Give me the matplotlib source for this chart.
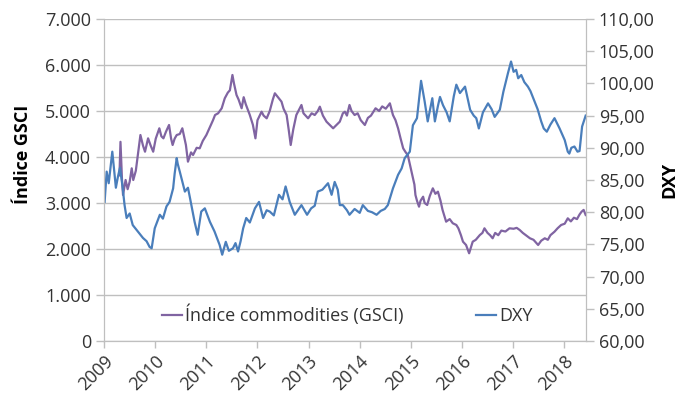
import matplotlib
matplotlib.use("Agg")
import matplotlib.pyplot as plt
import matplotlib.transforms as mtransforms
from matplotlib.ticker import FuncFormatter

# datas em anos decimais
gsci_t = [2009.30, 2009.32, 2009.35, 2009.37, 2009.42, 2009.46, 2009.50, 2009.54, 2009.57, 2009.62,
          2009.66, 2009.71, 2009.76, 2009.80, 2009.86, 2009.91, 2009.96, 2010.01, 2010.08, 2010.12,
          2010.16, 2010.21, 2010.27, 2010.31, 2010.34, 2010.38, 2010.42, 2010.48, 2010.53, 2010.60,
          2010.64, 2010.70, 2010.74, 2010.81, 2010.87, 2010.93, 2011.00, 2011.07, 2011.13, 2011.17,
          2011.23, 2011.30, 2011.36, 2011.42, 2011.46, 2011.51, 2011.54, 2011.59, 2011.63, 2011.69,
          2011.73, 2011.77, 2011.85, 2011.91, 2011.96, 2012.00, 2012.08, 2012.12, 2012.18, 2012.24,
          2012.30, 2012.34, 2012.40, 2012.47, 2012.51, 2012.57, 2012.61, 2012.65, 2012.70, 2012.76,
          2012.80, 2012.86, 2012.90, 2012.99, 2013.06, 2013.12, 2013.18, 2013.22, 2013.28, 2013.35,
          2013.41, 2013.48, 2013.55, 2013.61, 2013.67, 2013.71, 2013.75, 2013.80, 2013.84, 2013.90,
          2013.96, 2014.02, 2014.10, 2014.16, 2014.22, 2014.31, 2014.38, 2014.44, 2014.51, 2014.59,
          2014.65, 2014.70, 2014.75, 2014.80, 2014.85, 2014.90, 2014.94, 2014.99, 2015.03, 2015.07,
          2015.09, 2015.12, 2015.16, 2015.19, 2015.24, 2015.27, 2015.32, 2015.37, 2015.43, 2015.48,
          2015.53, 2015.58, 2015.62, 2015.69, 2015.76, 2015.82, 2015.89, 2015.93, 2015.98, 2016.02,
          2016.08, 2016.14, 2016.18, 2016.21, 2016.27, 2016.35, 2016.40, 2016.44, 2016.50, 2016.55,
          2016.60, 2016.65, 2016.71, 2016.77, 2016.85, 2016.93, 2017.01, 2017.07, 2017.13, 2017.19,
          2017.25, 2017.33, 2017.40, 2017.49, 2017.55, 2017.62, 2017.68, 2017.73, 2017.81, 2017.87,
          2017.94, 2018.01, 2018.07, 2018.13, 2018.19, 2018.25, 2018.30, 2018.34, 2018.38, 2018.42]
gsci_v = [3600, 4330, 3500, 3174, 3500, 3300, 3463, 3754, 3500, 3700,
          4044, 4478, 4250, 4115, 4406, 4250, 4115, 4400, 4624, 4450,
          4406, 4550, 4696, 4400, 4261, 4400, 4478, 4500, 4624, 4261,
          3898, 4100, 4044, 4200, 4189, 4350, 4478, 4650, 4800, 4913,
          4950, 5059, 5276, 5400, 5450, 5783, 5600, 5348, 5250, 5059,
          5300, 5150, 4913, 4700, 4406, 4800, 4985, 4900, 4841, 5000,
          5250, 5385, 5300, 5203, 5050, 4913, 4600, 4261, 4600, 4913,
          5000, 5131, 4950, 4841, 4950, 4913, 5000, 5094, 4900, 4768,
          4700, 4624, 4700, 4768, 4950, 4985, 4900, 5131, 5000, 4913,
          4950, 4800, 4696, 4850, 4900, 5059, 5000, 5100, 5050, 5167,
          4913, 4800, 4624, 4400, 4189, 4100, 4044, 3800, 3609, 3400,
          3174, 3050, 2920, 3050, 3137, 3000, 2957, 3150, 3319, 3200,
          3246, 3050, 2850, 2594, 2650, 2560, 2522, 2450, 2300, 2159,
          2087, 1907, 2050, 2159, 2200, 2304, 2350, 2450, 2350, 2300,
          2233, 2350, 2300, 2400, 2380, 2450, 2440, 2460, 2413, 2350,
          2300, 2233, 2200, 2087, 2180, 2233, 2200, 2300, 2376, 2450,
          2522, 2550, 2667, 2600, 2680, 2650, 2750, 2811, 2850, 2739]

dxy_t = [2009.01, 2009.05, 2009.09, 2009.16, 2009.23, 2009.27, 2009.31, 2009.36, 2009.40, 2009.44,
         2009.50, 2009.56, 2009.66, 2009.76, 2009.83, 2009.89, 2009.93, 2009.99, 2010.09, 2010.15,
         2010.22, 2010.28, 2010.35, 2010.38, 2010.42, 2010.44, 2010.48, 2010.58, 2010.64, 2010.68,
         2010.77, 2010.83, 2010.90, 2010.97, 2011.07, 2011.16, 2011.26, 2011.31, 2011.38, 2011.44,
         2011.52, 2011.57, 2011.62, 2011.67, 2011.72, 2011.78, 2011.85, 2011.95, 2012.03, 2012.11,
         2012.18, 2012.24, 2012.32, 2012.42, 2012.49, 2012.55, 2012.63, 2012.73, 2012.79, 2012.86,
         2012.97, 2013.05, 2013.12, 2013.18, 2013.27, 2013.38, 2013.45, 2013.51, 2013.57, 2013.61,
         2013.67, 2013.75, 2013.80, 2013.90, 2014.00, 2014.06, 2014.16, 2014.24, 2014.33, 2014.41,
         2014.49, 2014.55, 2014.65, 2014.75, 2014.82, 2014.88, 2014.98, 2015.04, 2015.12, 2015.16,
         2015.20, 2015.27, 2015.33, 2015.42, 2015.47, 2015.53, 2015.57, 2015.63, 2015.70, 2015.76,
         2015.84, 2015.89, 2015.96, 2016.06, 2016.16, 2016.23, 2016.28, 2016.33, 2016.41, 2016.51,
         2016.58, 2016.64, 2016.74, 2016.81, 2016.90, 2016.96, 2017.01, 2017.06, 2017.10, 2017.16,
         2017.22, 2017.29, 2017.34, 2017.42, 2017.48, 2017.55, 2017.60, 2017.66, 2017.73, 2017.81,
         2017.91, 2018.01, 2018.07, 2018.10, 2018.14, 2018.20, 2018.26, 2018.30, 2018.35, 2018.42]
dxy_v = [81.6, 86.3, 84.5, 89.4, 83.8, 85.5, 86.9, 84.0, 81.1, 79.1,
         79.8, 78.0, 77.0, 76.0, 75.5, 74.6, 74.4, 77.5, 79.6, 79.0,
         80.9, 81.6, 83.7, 86.0, 88.4, 87.5, 86.3, 83.2, 83.8, 82.2,
         78.5, 76.5, 80.1, 80.6, 78.5, 77.0, 74.9, 73.4, 75.4, 74.0,
         74.4, 75.2, 73.9, 75.5, 77.5, 79.1, 78.4, 80.6, 81.6, 79.1,
         80.3, 80.1, 79.5, 82.7, 82.0, 84.0, 81.6, 79.6, 80.3, 81.1,
         79.6, 80.6, 81.0, 83.2, 83.5, 84.5, 82.7, 84.7, 83.5, 81.1,
         81.1, 80.3, 79.6, 80.5, 79.9, 81.1, 80.2, 80.0, 79.6, 80.2,
         80.5, 81.1, 83.7, 85.8, 86.8, 88.4, 89.4, 93.5, 94.6, 97.5,
         100.4, 97.2, 94.1, 97.7, 94.1, 96.5, 97.9, 96.6, 95.5, 94.1,
         98.0, 99.8, 98.5, 99.5, 95.9, 95.0, 94.6, 93.0, 95.5, 96.9,
         96.0, 94.8, 95.9, 98.7, 101.6, 103.4, 101.8, 102.1, 100.8, 101.3,
         100.2, 99.5, 98.8, 97.2, 96.0, 94.1, 93.0, 92.5, 93.6, 94.6,
         93.0, 91.2, 89.4, 89.1, 90.0, 90.2, 89.4, 89.5, 93.3, 95.0]

years = list(range(2009, 2019))

plt.rcParams["font.family"] = ["Open Sans", "DejaVu Sans"]
GRID = "#bfbfbf"
TXT = "#333333"

fig = plt.figure(figsize=(6.85, 4.0), dpi=100)
ax = fig.add_axes([0.152, 0.1475, 0.703, 0.805])
ax2 = ax.twinx()

l1, = ax.plot(gsci_t, gsci_v, color="#8064a2", lw=1.6, label="Índice commodities (GSCI)")
l2, = ax2.plot(dxy_t, dxy_v, color="#4a7ebb", lw=1.6, label="DXY")

ax.set_xlim(2009, 2018.42)
ax.set_ylim(0, 7000)
ax2.set_ylim(60, 110)
ax.set_yticks(range(0, 7001, 1000))
ax2.set_yticks(range(60, 111, 5))
ax.set_xticks(years)
ax.set_xticklabels([str(y) for y in years], rotation=45, ha="right",
                   rotation_mode="anchor")
# rótulos do eixo x um pouco à direita, como no Excel
shift = mtransforms.ScaledTranslation(6 / 72, 0, fig.dpi_scale_trans)
for lbl in ax.get_xticklabels():
    lbl.set_transform(lbl.get_transform() + shift)

ax.yaxis.set_major_formatter(FuncFormatter(lambda v, p: f"{int(v):,}".replace(",", ".")))
ax2.yaxis.set_major_formatter(FuncFormatter(lambda v, p: f"{v:.2f}".replace(".", ",")))

ax.grid(axis="y", color=GRID, lw=1.0)
ax.set_axisbelow(True)
for a in (ax, ax2):
    a.spines["top"].set_visible(False)
    for s in ("left", "right", "bottom"):
        a.spines[s].set_color(GRID)
    a.tick_params(colors=GRID, labelcolor=TXT, labelsize=13, length=6, width=1)
ax.tick_params(axis="x", length=5, pad=3)

ax.set_ylabel("Índice GSCI", fontsize=13, fontweight="bold", color="black")
ax.yaxis.set_label_coords(-0.15, 0.58)
ax2.set_ylabel("DXY", fontsize=13, fontweight="bold", color="black", rotation=90, labelpad=4)

ax.legend(handles=[l1, l2], ncol=2, frameon=False, loc="center",
          bbox_to_anchor=(0.505, 0.081), fontsize=13, handlelength=1.1,
          handletextpad=0.2, columnspacing=4.0, labelcolor=TXT)

fig.savefig("out.png", dpi=100)
